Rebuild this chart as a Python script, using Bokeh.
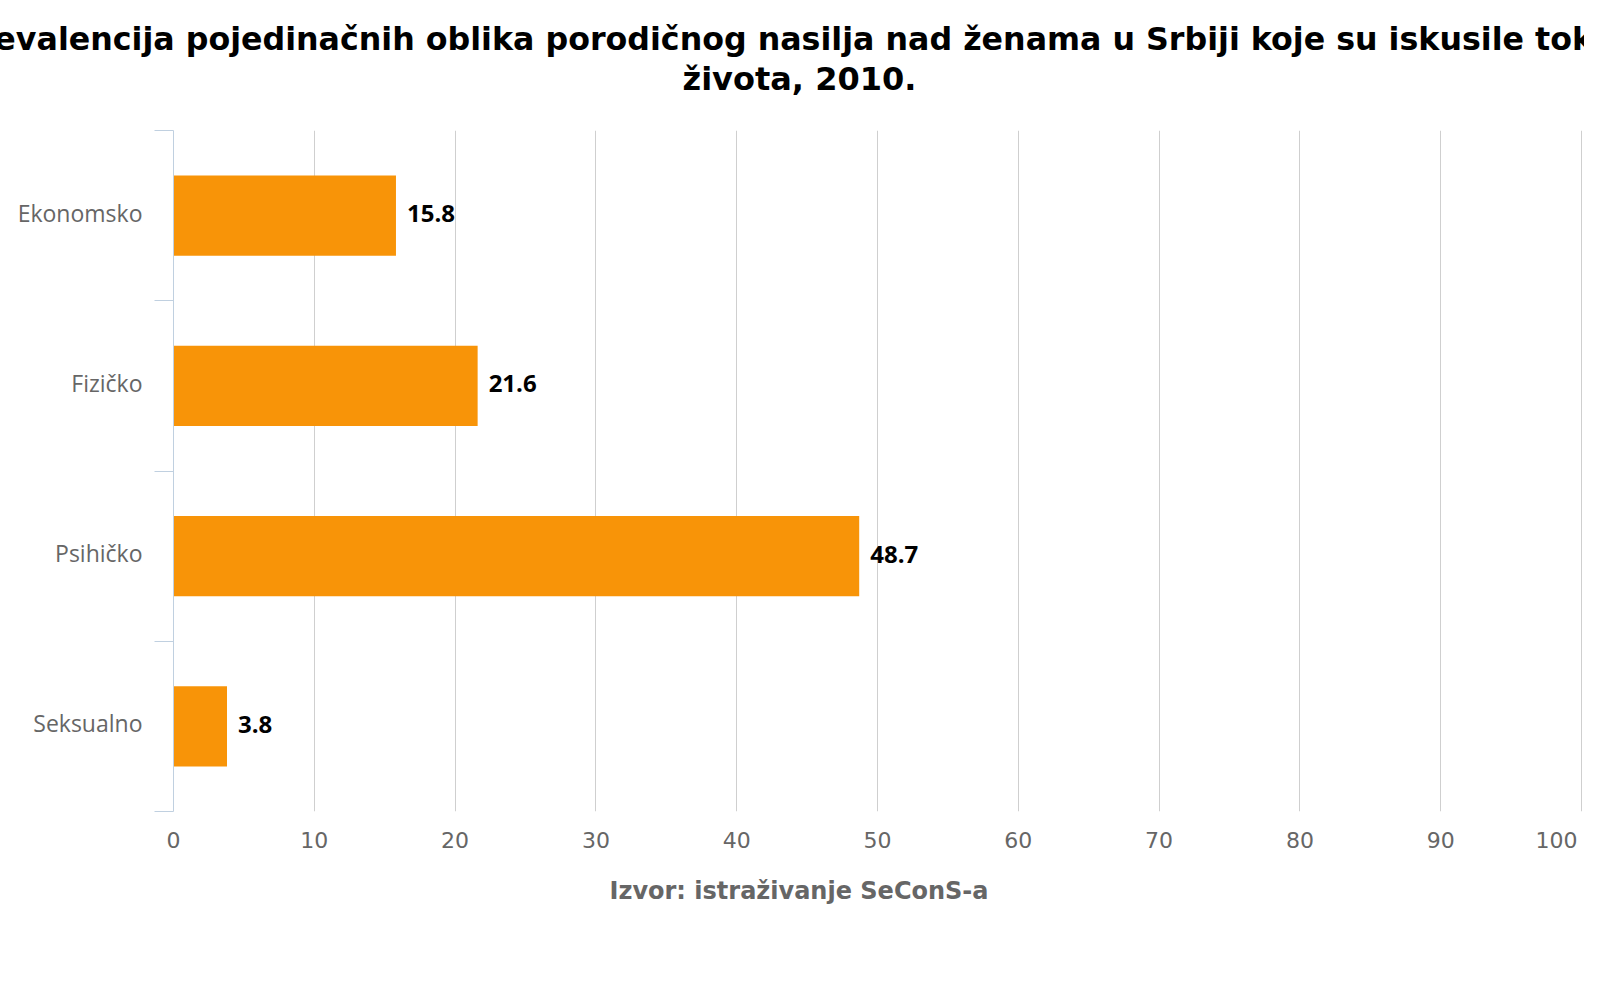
from bokeh.plotting import figure
from bokeh.models import FixedTicker, Range1d, ColumnDataSource, Title
from bokeh.core.properties import value
from bokeh.embed import file_html
from bokeh.resources import INLINE

categories = ["Ekonomsko", "Fizičko", "Psihičko", "Seksualno"]
values = [15.8, 21.6, 48.7, 3.8]
value_labels = ["15.8", "21.6", "48.7", "3.8"]
x_ticks = [0, 10, 20, 30, 40, 50, 60, 70, 80, 90, 100]
title_lines = [
    "Prevalencija pojedinačnih oblika porodičnog nasilja nad ženama u Srbiji koje su iskusile tokom",
    "života, 2010.",
]
source_text = "Izvor: istraživanje SeConS-a"

n = len(categories)
y_centers = [n - i - 0.5 for i in range(n)]
label_pos = [yc + 0.017 for yc in y_centers]

src = ColumnDataSource(dict(y=y_centers, v=values, lab=value_labels, cat=categories))

FRAME_LEFT = 173
p = figure(width=1584, height=984, output_backend="svg", toolbar_location=None,
           x_range=Range1d(0, 100.14), y_range=Range1d(0, n),
           min_border_left=FRAME_LEFT, min_border_right=1, min_border_top=130, min_border_bottom=173)
p.outline_line_color = None
p.background_fill_color = "white"
p.border_fill_color = "white"

p.hbar(y="y", left=0, right="v", height=0.47, source=src, fill_color="#F89408", line_color=None)
p.text(x="v", y="y", text="lab", source=src, x_offset=11, y_offset=-2, text_baseline="middle",
       text_align="left", text_font=value("Open Sans"), text_font_style="bold",
       text_font_size="24px", text_color="#000000")

# x axis
p.xaxis.ticker = FixedTicker(ticks=x_ticks)
p.xaxis.axis_line_color = None
p.xaxis.major_tick_line_color = None
p.xaxis.minor_tick_line_color = None
p.xaxis.major_tick_in = 0
p.xaxis.major_tick_out = 0
p.xaxis.major_label_text_font = "DejaVu Sans"
p.xaxis.major_label_text_font_size = "22px"
p.xaxis.major_label_text_color = "#666666"
p.xaxis.major_label_standoff = 16
# last label kept inside the chart edge (padded with a no-break space)
p.xaxis.major_label_overrides = {x_ticks[-1]: str(x_ticks[-1]) + "\u00a0"}
p.xgrid.ticker = FixedTicker(ticks=x_ticks)
p.xgrid.grid_line_color = "#CFCFCF"
p.xgrid.grid_line_width = 1
p.ygrid.grid_line_color = None

# y axis: labels at centers, tick marks at boundaries
p.yaxis.ticker = FixedTicker(ticks=label_pos, minor_ticks=list(range(n + 1)))
p.yaxis.major_label_overrides = {lp: c for lp, c in zip(label_pos, categories)}
p.yaxis.axis_line_color = "#C0D0E0"
p.yaxis.axis_line_width = 1
p.yaxis.major_tick_line_color = None
p.yaxis.major_tick_in = 0
p.yaxis.major_tick_out = 0
p.yaxis.minor_tick_line_color = "#C0D0E0"
p.yaxis.minor_tick_in = 0
p.yaxis.minor_tick_out = 19
p.yaxis.major_label_text_font = "Open Sans"
p.yaxis.major_label_text_font_size = "23px"
p.yaxis.major_label_text_color = "#666666"
p.yaxis.major_label_standoff = 12

# title: spacer + two lines (added outward from the plot)
p.add_layout(Title(text=" ", text_font_size="1px", standoff=30), "above")
p.add_layout(Title(text=title_lines[1], align="left", offset=682 - FRAME_LEFT, standoff=0,
                   text_font="DejaVu Sans", text_font_style="bold", text_font_size="32px",
                   text_color="#000000"), "above")
p.add_layout(Title(text=title_lines[0], align="left", offset=-45 - FRAME_LEFT, standoff=2,
                   text_font="DejaVu Sans", text_font_style="bold", text_font_size="31.7px",
                   text_color="#000000"), "above")

# source below
p.add_layout(Title(text=source_text, align="left", offset=609 - FRAME_LEFT, standoff=38,
                   text_font="DejaVu Sans", text_font_style="bold", text_font_size="24px",
                   text_color="#666666"), "below")

open("out.html", "w").write(file_html(p, INLINE))
